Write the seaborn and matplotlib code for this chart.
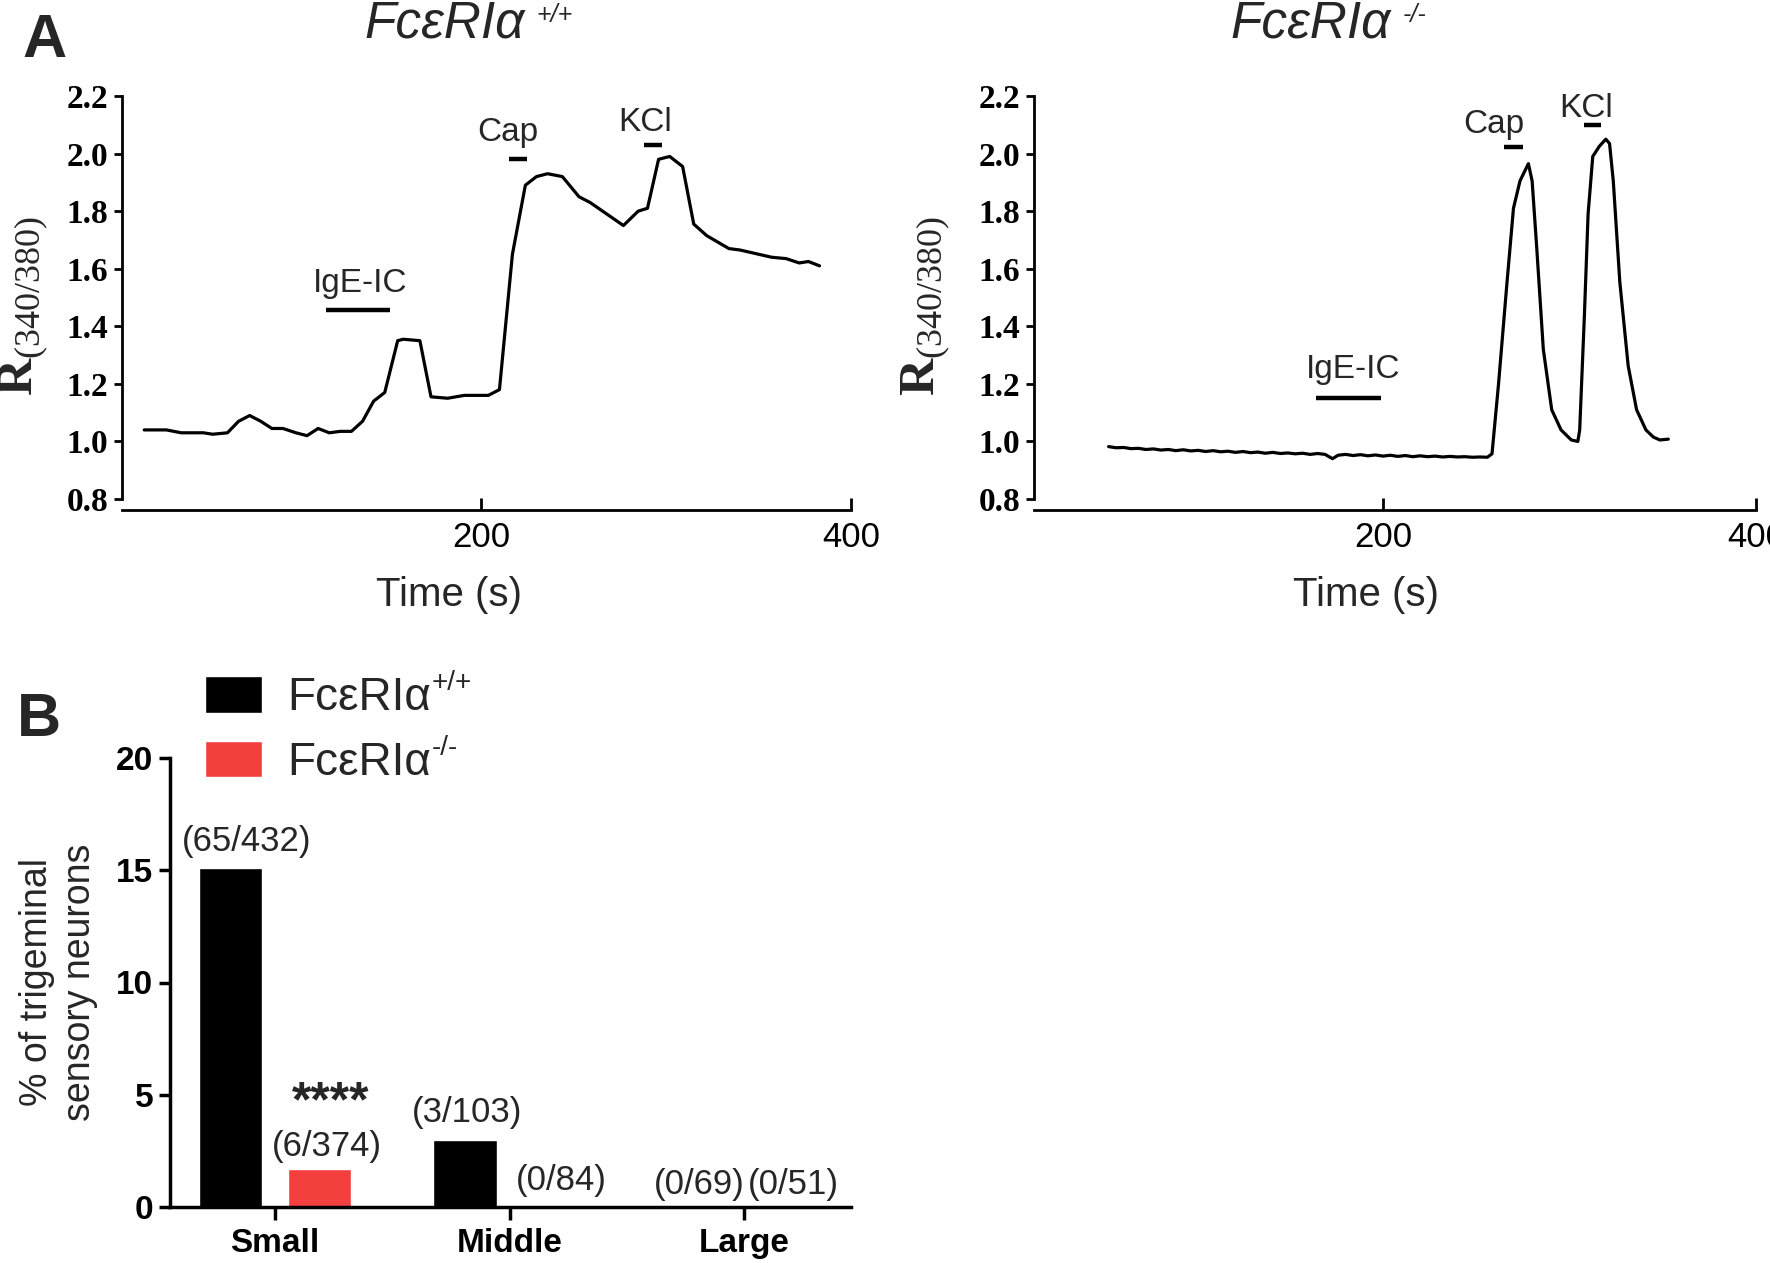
import matplotlib
matplotlib.use("Agg")
import matplotlib.pyplot as plt
import seaborn as sns
import pandas as pd

# ---- panel A: Fura-2 ratio traces ----
wt_time = [18, 30, 38, 50, 55, 63, 69, 75, 81, 87, 93, 100, 106, 112, 118,
           124, 130, 136, 142, 148, 155, 158, 167, 173, 182, 191, 204, 210,
           217, 224, 230, 236, 244, 253, 259, 268, 277, 285, 290, 296, 302,
           309, 315, 322, 334, 340, 357, 365, 372, 377, 383]
wt_ratio = [1.04, 1.04, 1.03, 1.03, 1.025, 1.03, 1.07, 1.09, 1.07, 1.045,
            1.045, 1.03, 1.02, 1.045, 1.03, 1.035, 1.035, 1.07, 1.14, 1.17,
            1.35, 1.355, 1.35, 1.155, 1.15, 1.16, 1.16, 1.18, 1.65, 1.89,
            1.92, 1.93, 1.92, 1.85, 1.83, 1.79, 1.75, 1.80, 1.81, 1.98, 1.99,
            1.955, 1.755, 1.715, 1.67, 1.665, 1.64, 1.635, 1.62, 1.625, 1.61]

ko_time = [53, 57, 61, 65, 69, 73, 77, 81, 85, 89, 93, 97, 101, 105, 109,
           113, 117, 121, 125, 129, 133, 137, 141, 145, 149, 153, 157, 161,
           165, 169, 173, 176, 180, 184, 188, 192, 196, 200, 204, 208, 212,
           216, 220, 224, 228, 232, 236, 240, 244, 248, 252, 256,
           258.5, 262, 266.5, 270, 273.5, 278, 280, 282.5, 286, 290.5, 295.5,
           301, 304.5, 305.5, 308, 310, 312.5, 316, 319.5, 321.5, 323.5, 327,
           331.5, 336, 341, 345, 348.5, 353]
ko_ratio = [0.982, 0.978, 0.979, 0.975, 0.976, 0.972, 0.974, 0.970, 0.972,
            0.968, 0.971, 0.967, 0.969, 0.965, 0.968, 0.964, 0.966, 0.962,
            0.965, 0.961, 0.963, 0.959, 0.962, 0.958, 0.960, 0.957, 0.959,
            0.955, 0.958, 0.955,
            0.940, 0.952, 0.955, 0.951, 0.954, 0.950, 0.953, 0.949, 0.952,
            0.948, 0.951, 0.947, 0.950, 0.947, 0.949, 0.946, 0.948, 0.946,
            0.947, 0.945, 0.946, 0.945,
            0.957, 1.20, 1.55, 1.81, 1.905, 1.965, 1.905, 1.67, 1.32, 1.11,
            1.04, 1.005, 1.0, 1.04, 1.435, 1.79, 1.99, 2.025, 2.05, 2.035,
            1.905, 1.554, 1.262, 1.11, 1.04, 1.015, 1.005, 1.008]

stim_names = ["IgE-IC", "Cap", "KCl"]
wt_stim_start = [116, 215, 288]
wt_stim_end = [151, 225, 298]
ko_stim_start = [164, 265, 308]
ko_stim_end = [199, 275, 317]

# ---- panel B: responders ----
sizes = ["Small", "Middle", "Large"]
pct_wt = [15.1, 3.0, 0.0]
pct_ko = [1.7, 0.0, 0.0]
counts_wt = ["(65/432)", "(3/103)", "(0/69)"]
counts_ko = ["(6/374)", "(0/84)", "(0/51)"]

sns.set_theme(style="ticks")
plt.rcParams["font.family"] = ["Liberation Sans", "DejaVu Sans"]
plt.rcParams["mathtext.fontset"] = "custom"
plt.rcParams["mathtext.rm"] = "Liberation Serif"
plt.rcParams["mathtext.bf"] = "Liberation Serif:bold"

fig = plt.figure(figsize=(17.7, 12.63), dpi=100)
W, H = 1770, 1263


def axes_px(left, top, right, bottom):
    return fig.add_axes([left / W, 1 - bottom / H, (right - left) / W, (bottom - top) / H])


def superscript(anchor, txt, size, y=0.62, dx=3, va="bottom", **kw):
    # small raised text glued to the right end of another text
    fig.axes[0].annotate(txt, xy=(1, y), xycoords=anchor, xytext=(dx, 0),
                         textcoords="offset points", ha="left", va=va,
                         fontsize=size, annotation_clip=False, **kw)


serif = ["Liberation Serif", "DejaVu Serif"]


def trace_panel(ax, t, r, xmin, starts, ends, bar_y, label_xy):
    sns.lineplot(x=t, y=r, ax=ax, color="black", lw=2.3, sort=False, estimator=None)
    for s in ["top", "right"]:
        ax.spines[s].set_visible(False)
    ax.spines["bottom"].set_position(("outward", 8))
    for s in ["left", "bottom"]:
        ax.spines[s].set_linewidth(2.0)
        ax.spines[s].set_color("black")
    ax.set_xlim(xmin, 400)
    ax.set_ylim(0.8, 2.2)
    ax.set_yticks([0.8, 1.0, 1.2, 1.4, 1.6, 1.8, 2.0, 2.2])
    ax.set_yticklabels(["0.8", "1.0", "1.2", "1.4", "1.6", "1.8", "2.0", "2.2"],
                       family=serif, fontweight="bold", fontsize=24)
    ax.set_xticks([200, 400])
    ax.set_xticklabels(["200", "400"], fontsize=25)
    ax.tick_params(axis="y", direction="out", length=6, width=2, pad=4, colors="black")
    ax.tick_params(axis="x", direction="in", length=9, width=2, pad=8, colors="black")
    ax.set_xlabel("Time (s)", fontsize=29)
    ax.set_ylabel(r"$\mathbf{R}_{\mathrm{(340/380)}}$", fontsize=37)
    for name, a, b, y, (lx, ly) in zip(stim_names, starts, ends, bar_y, label_xy):
        ax.plot([a, b], [y, y], color="black", lw=3.2, solid_capstyle="butt")
        ax.text(lx, ly, name, ha="center", va="center", fontsize=24)


ax1 = axes_px(122, 96, 851, 499)
trace_panel(ax1, wt_time, wt_ratio, 6, wt_stim_start, wt_stim_end,
            [1.457, 1.98, 2.03], [(134.7, 1.549), (214.7, 2.073), (288.7, 2.108)])
ax1.xaxis.set_label_coords(0.449, -0.19)
ax1.yaxis.set_label_coords(-0.097, 0.479)

ax2 = axes_px(1034, 96, 1756, 499)
trace_panel(ax2, ko_time, ko_ratio, 13, ko_stim_start, ko_stim_end,
            [1.151, 2.023, 2.10], [(183.8, 1.25), (259.5, 2.10), (309, 2.155)])
ax2.xaxis.set_label_coords(0.46, -0.19)
ax2.yaxis.set_label_coords(-0.112, 0.479)

t1 = fig.text(445 / W, 1 - 38 / H, "FcεRIα", style="italic", fontsize=37,
              ha="center", va="baseline")
t2 = fig.text(1311 / W, 1 - 38 / H, "FcεRIα", style="italic", fontsize=37,
              ha="center", va="baseline")
superscript(t1, "+/+", 18, y=0.93, dx=8, va="top", style="italic")
superscript(t2, "-/-", 18, y=0.93, dx=8, va="top", style="italic")
fig.text(22 / W, 1 - 57 / H, "A", fontsize=44, fontweight="bold", va="baseline")
fig.text(17 / W, 1 - 736 / H, "B", fontsize=44, fontweight="bold", va="baseline")

# ---- panel B ----
df = pd.DataFrame({
    "size": sizes * 2,
    "genotype": ["wt"] * 3 + ["ko"] * 3,
    "pct": pct_wt + pct_ko,
})
ax3 = axes_px(170, 758, 851, 1207)
sns.barplot(data=df, x="size", y="pct", hue="genotype", hue_order=["wt", "ko"],
            palette={"wt": "black", "ko": "#f43f3f"}, saturation=1,
            width=0.76, gap=0.29, ax=ax3)
ax3.set_xlim(-0.448, 2.456)
ax3.set_ylim(0, 20)
ax3.set_yticks([0, 5, 10, 15, 20])
ax3.set_yticklabels(["0", "5", "10", "15", "20"], fontsize=24, fontweight="bold")
ax3.set_xticks([0, 1, 2])
ax3.set_xticklabels(sizes, fontsize=24, fontweight="bold")
ax3.set_xlabel("")
ax3.set_ylabel("% of trigeminal\nsensory neurons", fontsize=27, linespacing=1.25)
ax3.yaxis.set_label_coords(-0.106, 0.5)
for s in ["top", "right"]:
    ax3.spines[s].set_visible(False)
for s in ["left", "bottom"]:
    ax3.spines[s].set_linewidth(2.5)
    ax3.spines[s].set_color("black")
ax3.tick_params(axis="y", direction="out", length=8, width=2.5, pad=4, colors="black")
ax3.tick_params(axis="x", direction="out", length=9, width=2.5, pad=6, colors="black")

# counts above bars
wt_lab_xy = [(-0.12, 16.3), (0.82, 4.2), (1.81, 0.98)]
ko_lab_xy = [(0.222, 2.68), (1.22, 1.16), (2.21, 0.98)]
for txt, (x, y) in zip(counts_wt + counts_ko, wt_lab_xy + ko_lab_xy):
    ax3.text(x, y, txt, ha="center", va="center", fontsize=25)
ax3.text(0.235, 4.6, "****", ha="center", va="center", fontsize=36, fontweight="bold")

handles, _ = ax3.get_legend_handles_labels()
ax3.get_legend().remove()
leg = ax3.legend(handles, ["FcεRIα", "FcεRIα"],
                 loc="upper left", bbox_to_anchor=(205 / W, 1 - 676 / H),
                 bbox_transform=fig.transFigure, frameon=False, fontsize=33,
                 handlelength=1.25, handleheight=0.85, labelspacing=0.45,
                 handletextpad=0.55, borderaxespad=0, borderpad=0)
fig.canvas.draw()
for txt, sup in zip(leg.get_texts(), ["+/+", "-/-"]):
    superscript(txt, sup, 20, y=0.55, dx=0)

fig.savefig("out.png", dpi=100)
